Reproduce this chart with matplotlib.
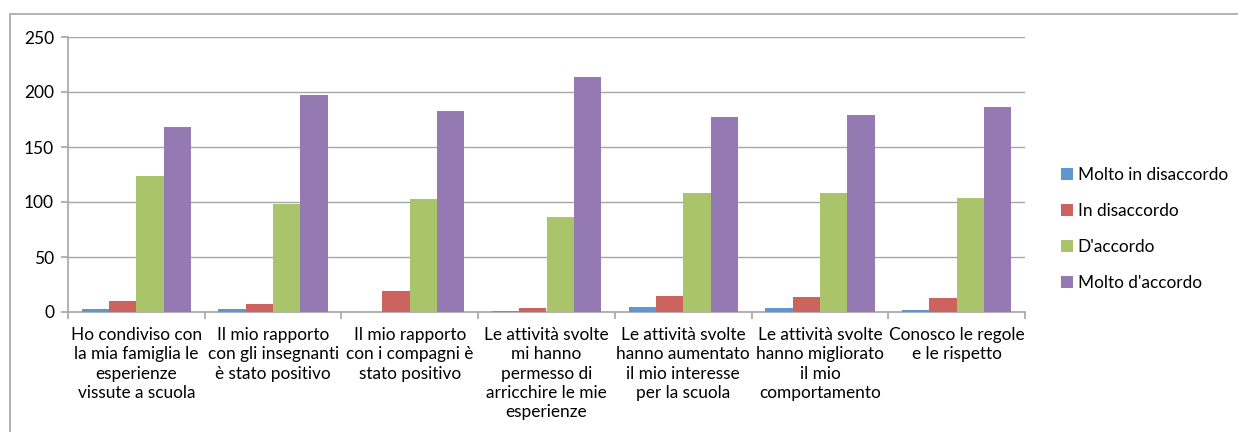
import matplotlib
matplotlib.use("Agg")
import matplotlib.pyplot as plt
import numpy as np
from matplotlib.patches import Rectangle

categories = [
    "Ho condiviso con\nla mia famiglia le\nesperienze\nvissute a scuola",
    "Il mio rapporto\ncon gli insegnanti\nè stato positivo",
    "Il mio rapporto\ncon i compagni è\nstato positivo",
    "Le attività svolte\nmi hanno\npermesso di\narricchire le mie\nesperienze",
    "Le attività svolte\nhanno aumentato\nil mio interesse\nper la scuola",
    "Le attività svolte\nhanno migliorato\nil mio\ncomportamento",
    "Conosco le regole\ne le rispetto",
]
series_names = ["Molto in disaccordo", "In disaccordo", "D'accordo", "Molto d'accordo"]
molto_disaccordo = [3, 3, 0, 1, 5, 4, 2]
disaccordo = [10, 7, 19, 4, 15, 14, 13]
accordo = [124, 98, 103, 86, 108, 108, 104]
molto_accordo = [168, 197, 183, 214, 177, 179, 186]
yticks = [0, 50, 100, 150, 200, 250]

colors = ["#5E96CF", "#CD635E", "#A9C46B", "#9479B2"]
series = [molto_disaccordo, disaccordo, accordo, molto_accordo]

plt.rcParams['font.family'] = ['Lato', 'DejaVu Sans']
fig = plt.figure(figsize=(12.38, 4.32), dpi=100)
W, H = 1238, 432
ax = fig.add_axes([68 / W, 1 - 312 / H, (1025 - 68) / W, (312 - 37) / H])

# outer frame
fig.patches.append(Rectangle((10 / W, -0.1), 1.2, 1 - 14 / H + 0.1, transform=fig.transFigure,
                             fill=False, edgecolor="#A6A6A6", linewidth=1.2, zorder=0))

x = np.arange(len(categories))
w = 0.2
for i, (vals, name, c) in enumerate(zip(series, series_names, colors)):
    ax.bar(x + (i - 1.5) * w, vals, width=w, color=c, label=name, zorder=3)

ax.set_xlim(-0.5, len(categories) - 0.5)
ax.set_ylim(0, 250)
ax.set_yticks(yticks)
ax.set_yticklabels([str(v) for v in yticks], fontsize=12.5)
ax.yaxis.grid(True, color="#A6A6A6", linewidth=1.0, zorder=0)
ax.set_axisbelow(True)
for s in ["top", "right"]:
    ax.spines[s].set_visible(False)
for s in ["left", "bottom"]:
    ax.spines[s].set_color("#A6A6A6")
    ax.spines[s].set_linewidth(1.2)
ax.tick_params(axis="y", length=5, color="#A6A6A6", width=1.2, pad=5)
ax.set_xticks(x)
ax.set_xticklabels(categories, fontsize=12.4, linespacing=1.24, va="top")
ax.tick_params(axis="x", which="major", length=0, pad=11)
ax.set_xticks(np.arange(-0.5, len(categories), 1.0), minor=True)
ax.tick_params(axis="x", which="minor", length=5, color="#A6A6A6", width=1.2)

handles, labels = ax.get_legend_handles_labels()
leg = fig.legend(handles, labels, loc="center left", bbox_to_anchor=(1045 / W, 1 - 229 / H),
                 frameon=False, fontsize=12.4, handlelength=0.7, handleheight=0.7,
                 handletextpad=0.3, labelspacing=1.15)

fig.savefig("out.png", dpi=100)
